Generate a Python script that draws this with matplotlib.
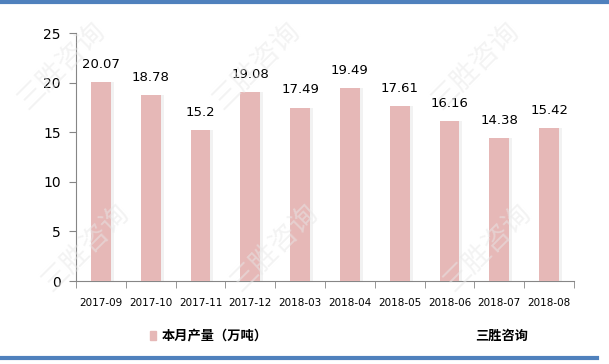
import matplotlib.pyplot as plt
import numpy as np

plt.rcParams['font.family'] = ['Noto Sans CJK SC', 'DejaVu Sans']

months = ['2017-09', '2017-10', '2017-11', '2017-12', '2018-03',
          '2018-04', '2018-05', '2018-06', '2018-07', '2018-08']
output = [20.07, 18.78, 15.2, 19.08, 17.49, 19.49, 17.61, 16.16, 14.38, 15.42]
value_labels = ['20.07', '18.78', '15.2', '19.08', '17.49',
                '19.49', '17.61', '16.16', '14.38', '15.42']
yticks = [0, 5, 10, 15, 20, 25]

bar_color = '#e6b8b7'
axis_color = '#868686'

fig = plt.figure(figsize=(6.09, 3.64), dpi=100)
ax = fig.add_axes([0.1248, 0.228, 0.8177, 0.681])

# faint watermarks in the background
for x, y in [(0.1, 0.82), (0.42, 0.82), (0.78, 0.82), (0.14, 0.32), (0.45, 0.32), (0.8, 0.32)]:
    fig.text(x, y, '三胜咨询', fontsize=20, color='#e8e8e8', alpha=0.5,
             rotation=45, ha='center', va='center', zorder=0)

xs = np.arange(len(months))
ax.bar(xs + 0.04, output, width=0.44, color='#f2f2f2', zorder=2)
ax.bar(xs, output, width=0.4, color=bar_color, zorder=3, label='本月产量（万吨）')

for x, v, s in zip(xs, output, value_labels):
    ax.annotate(s, (x, v), xytext=(0, 8), textcoords='offset points',
                ha='center', va='bottom', fontsize=9.5, color='#000000',
                family='DejaVu Sans')

ax.set_xlim(-0.5, len(months) - 0.5)
ax.set_ylim(0, 25)
ax.set_yticks(yticks)
ax.set_yticklabels([str(t) for t in yticks], fontsize=10, family='DejaVu Sans')
ax.set_xticks(xs)
ax.set_xticklabels(months, fontsize=7.5, family='DejaVu Sans')
ax.set_xticks(np.arange(len(months) + 1) - 0.5, minor=True)
ax.tick_params(axis='x', which='major', length=0, pad=12)
ax.tick_params(axis='x', which='minor', length=5, color=axis_color, direction='out')
ax.tick_params(axis='y', length=5, color=axis_color, direction='out', pad=6)

for side in ['top', 'right']:
    ax.spines[side].set_visible(False)
for side in ['left', 'bottom']:
    ax.spines[side].set_color(axis_color)
ax.patch.set_alpha(0)

# legend + source
fig.patches.append(plt.Rectangle((150 / 609, 1 - 340 / 364), 6 / 609, 9 / 364,
                                 transform=fig.transFigure, color=bar_color))
fig.text(162 / 609, 1 - 335 / 364, '本月产量（万吨）', fontsize=9.5, va='center',
         fontweight='bold')
fig.text(475 / 609, 1 - 336 / 364, '三胜咨询', fontsize=9.5, va='center',
         fontweight='bold')

# blue rules top and bottom
fig.add_artist(plt.Line2D([0, 1], [1 - 2 / 364, 1 - 2 / 364], color='#4f81bd', lw=3))
fig.add_artist(plt.Line2D([0, 0.98], [1 - 358 / 364, 1 - 358 / 364], color='#4f81bd', lw=3))

fig.savefig('out.png', dpi=100)
